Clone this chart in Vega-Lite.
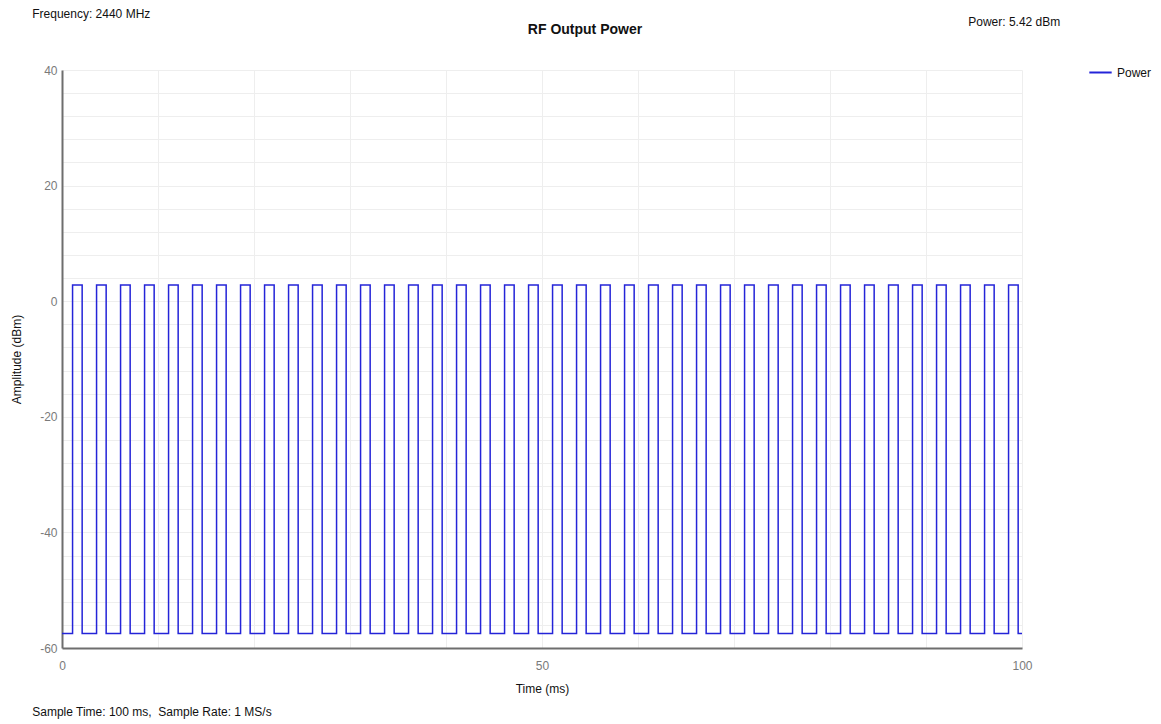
{
  "$schema": "https://vega.github.io/schema/vega-lite/v6.json",
  "autosize": "none",
  "width": 960,
  "height": 578,
  "padding": {"left": 62, "top": 70, "right": 139, "bottom": 76},
  "background": "white",
  "config": {
    "view": {"stroke": null},
    "font": "Liberation Sans",
    "axis": {
      "labelFont": "Liberation Sans",
      "titleFont": "Liberation Sans",
      "labelFontSize": 12,
      "titleFontSize": 12,
      "titleFontWeight": "normal",
      "labelColor": "#7a7a7a",
      "titleColor": "#111111",
      "domainColor": "#6e6e6e",
      "domainWidth": 2,
      "gridColor": "#eeeeee",
      "gridWidth": 1,
      "ticks": false,
      "labelOverlap": false,
      "labelFlush": false
    }
  },
  "title": {
    "text": "RF Output Power",
    "font": "Liberation Sans",
    "fontSize": 14,
    "fontWeight": "bold",
    "color": "#111111",
    "anchor": "middle",
    "dx": 43,
    "offset": -29
  },
  "datasets": {
    "power": [
      {"t": 0, "p": -57.5},
      {"t": 1.1, "p": 2.8}, {"t": 2.1, "p": -57.5},
      {"t": 3.6, "p": 2.8}, {"t": 4.6, "p": -57.5},
      {"t": 6.1, "p": 2.8}, {"t": 7.1, "p": -57.5},
      {"t": 8.6, "p": 2.8}, {"t": 9.6, "p": -57.5},
      {"t": 11.1, "p": 2.8}, {"t": 12.1, "p": -57.5},
      {"t": 13.6, "p": 2.8}, {"t": 14.6, "p": -57.5},
      {"t": 16.1, "p": 2.8}, {"t": 17.1, "p": -57.5},
      {"t": 18.6, "p": 2.8}, {"t": 19.6, "p": -57.5},
      {"t": 21.1, "p": 2.8}, {"t": 22.1, "p": -57.5},
      {"t": 23.6, "p": 2.8}, {"t": 24.6, "p": -57.5},
      {"t": 26.1, "p": 2.8}, {"t": 27.1, "p": -57.5},
      {"t": 28.6, "p": 2.8}, {"t": 29.6, "p": -57.5},
      {"t": 31.1, "p": 2.8}, {"t": 32.1, "p": -57.5},
      {"t": 33.6, "p": 2.8}, {"t": 34.6, "p": -57.5},
      {"t": 36.1, "p": 2.8}, {"t": 37.1, "p": -57.5},
      {"t": 38.6, "p": 2.8}, {"t": 39.6, "p": -57.5},
      {"t": 41.1, "p": 2.8}, {"t": 42.1, "p": -57.5},
      {"t": 43.6, "p": 2.8}, {"t": 44.6, "p": -57.5},
      {"t": 46.1, "p": 2.8}, {"t": 47.1, "p": -57.5},
      {"t": 48.6, "p": 2.8}, {"t": 49.6, "p": -57.5},
      {"t": 51.1, "p": 2.8}, {"t": 52.1, "p": -57.5},
      {"t": 53.6, "p": 2.8}, {"t": 54.6, "p": -57.5},
      {"t": 56.1, "p": 2.8}, {"t": 57.1, "p": -57.5},
      {"t": 58.6, "p": 2.8}, {"t": 59.6, "p": -57.5},
      {"t": 61.1, "p": 2.8}, {"t": 62.1, "p": -57.5},
      {"t": 63.6, "p": 2.8}, {"t": 64.6, "p": -57.5},
      {"t": 66.1, "p": 2.8}, {"t": 67.1, "p": -57.5},
      {"t": 68.6, "p": 2.8}, {"t": 69.6, "p": -57.5},
      {"t": 71.1, "p": 2.8}, {"t": 72.1, "p": -57.5},
      {"t": 73.6, "p": 2.8}, {"t": 74.6, "p": -57.5},
      {"t": 76.1, "p": 2.8}, {"t": 77.1, "p": -57.5},
      {"t": 78.6, "p": 2.8}, {"t": 79.6, "p": -57.5},
      {"t": 81.1, "p": 2.8}, {"t": 82.1, "p": -57.5},
      {"t": 83.6, "p": 2.8}, {"t": 84.6, "p": -57.5},
      {"t": 86.1, "p": 2.8}, {"t": 87.1, "p": -57.5},
      {"t": 88.6, "p": 2.8}, {"t": 89.6, "p": -57.5},
      {"t": 91.1, "p": 2.8}, {"t": 92.1, "p": -57.5},
      {"t": 93.6, "p": 2.8}, {"t": 94.6, "p": -57.5},
      {"t": 96.1, "p": 2.8}, {"t": 97.1, "p": -57.5},
      {"t": 98.6, "p": 2.8}, {"t": 99.6, "p": -57.5},
      {"t": 100, "p": -57.5}
    ],
    "notes": [
      {"label": "Frequency: 2440 MHz", "nx": -3.1, "ny": 49.7},
      {"label": "Power: 5.42 dBm", "nx": 94.4, "ny": 48.3},
      {"label": "Sample Time: 100 ms,\u00a0 Sample Rate: 1 MS/s", "nx": -3.1, "ny": -71.1}
    ]
  },
  "layer": [
    {
      "data": {"name": "power"},
      "mark": {"type": "line", "interpolate": "step-after", "strokeWidth": 1.5, "clip": false},
      "encoding": {
        "x": {
          "field": "t", "type": "quantitative",
          "scale": {"domain": [0, 100], "nice": false, "zero": false},
          "axis": {
            "title": "Time (ms)",
            "values": [0, 10, 20, 30, 40, 50, 60, 70, 80, 90, 100],
            "tickCount": 40,
            "labelExpr": "datum.value % 50 === 0 ? '' + datum.value : ''",
            "labelOverlap": false,
            "labelFlush": false,
            "labelPadding": 12,
            "titlePadding": 12,
            "grid": true
          }
        },
        "y": {
          "field": "p", "type": "quantitative",
          "scale": {"domain": [-60, 40], "nice": false, "zero": false},
          "axis": {
            "title": "Amplitude (dBm)",
            "values": [-60, -56, -52, -48, -44, -40, -36, -32, -28, -24, -20, -16, -12, -8, -4, 0, 4, 8, 12, 16, 20, 24, 28, 32, 36, 40],
            "tickCount": 40,
            "labelExpr": "datum.value % 20 === 0 ? '' + datum.value : ''",
            "labelOverlap": false,
            "labelFlush": false,
            "labelPadding": 5,
            "titlePadding": 16,
            "grid": true
          }
        },
        "color": {
          "datum": "Power",
          "type": "nominal",
          "scale": {"range": ["#2424d8"]},
          "legend": {
            "title": null,
            "orient": "none",
            "legendX": 1026,
            "legendY": -10,
            "symbolType": "stroke",
            "symbolSize": 500,
            "symbolStrokeWidth": 2,
            "labelFont": "Liberation Sans",
            "labelFontSize": 12,
            "labelColor": "#111111"
          }
        }
      }
    },
    {
      "data": {"name": "notes"},
      "mark": {"type": "text", "align": "left", "baseline": "middle", "font": "Liberation Sans", "fontSize": 12, "color": "#111111"},
      "encoding": {
        "x": {"field": "nx", "type": "quantitative"},
        "y": {"field": "ny", "type": "quantitative"},
        "text": {"field": "label"}
      }
    }
  ]
}
